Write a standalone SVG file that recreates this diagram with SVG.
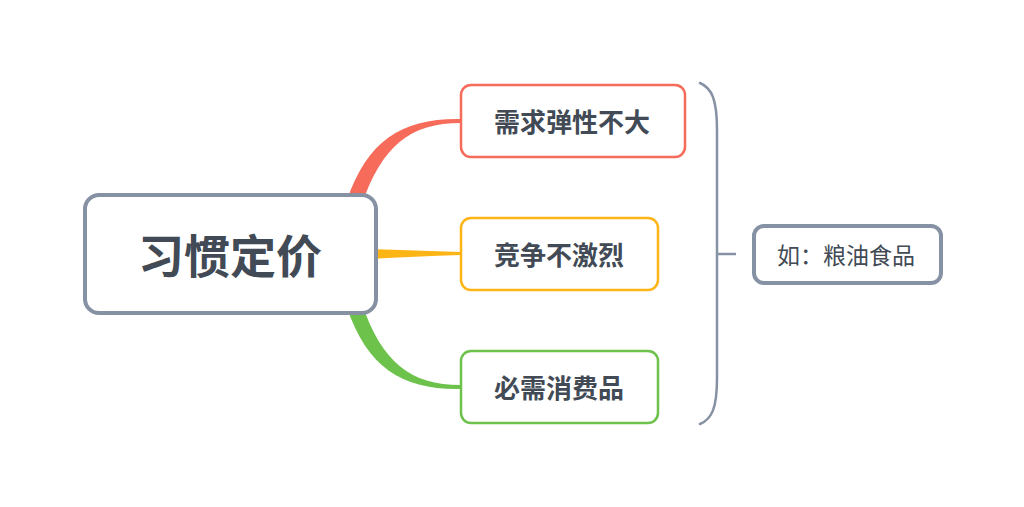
<svg xmlns="http://www.w3.org/2000/svg" width="1024" height="507" viewBox="0 0 1024 507">
<style>
.box{fill:#fff;}
.t{font-family:"Noto Sans CJK SC","Noto Sans",sans-serif;fill:#414a55;text-anchor:middle;dominant-baseline:central;}
.b{font-weight:bold;}
</style>
<rect width="1024" height="507" fill="#fff"/>
<g id="connectors">
<path d="M347,200 C368,140 402,118 461,119 L461,123 C410,123 382,146 362,204 Z" fill="#f76b5a"/>
<path d="M370,249 C400,250 430,251 461,252 L461,255 C430,256 400,257 370,259 Z" fill="#fdb515"/>
<path d="M347,308 C368,368 402,390 461,389 L461,385 C410,385 382,362 362,304 Z" fill="#6cc24a"/>
<path d="M700,83 C712,88 717,100 717,130 L717,378 C717,408 712,419 700,424" fill="none" stroke="#8691a4" stroke-width="2.5" stroke-linecap="round"/>
<line x1="717" y1="254" x2="736" y2="254" stroke="#8691a4" stroke-width="2.5"/>
</g>
<g id="root">
<rect class="box" x="85" y="195" width="291" height="118" rx="14" stroke="#8691a4" stroke-width="4"/>
<text class="t b" x="230" y="253" font-size="46">习惯定价</text>
</g>
<g id="n1">
<rect class="box" x="461" y="85" width="224" height="72" rx="10" stroke="#f76b5a" stroke-width="2.5"/>
<text class="t b" x="572" y="120" font-size="26">需求弹性不大</text>
</g>
<g id="n2">
<rect class="box" x="461" y="218" width="197" height="72" rx="10" stroke="#fdb515" stroke-width="2.5"/>
<text class="t b" x="559" y="253" font-size="26">竞争不激烈</text>
</g>
<g id="n3">
<rect class="box" x="461" y="351" width="197" height="72" rx="10" stroke="#6cc24a" stroke-width="2.5"/>
<text class="t b" x="559" y="386" font-size="26">必需消费品</text>
</g>
<g id="n4">
<rect class="box" x="754" y="226" width="187" height="57" rx="10" stroke="#8691a4" stroke-width="4"/>
<text class="t" x="846" y="254" font-size="23">如：粮油食品</text>
</g>
</svg>
